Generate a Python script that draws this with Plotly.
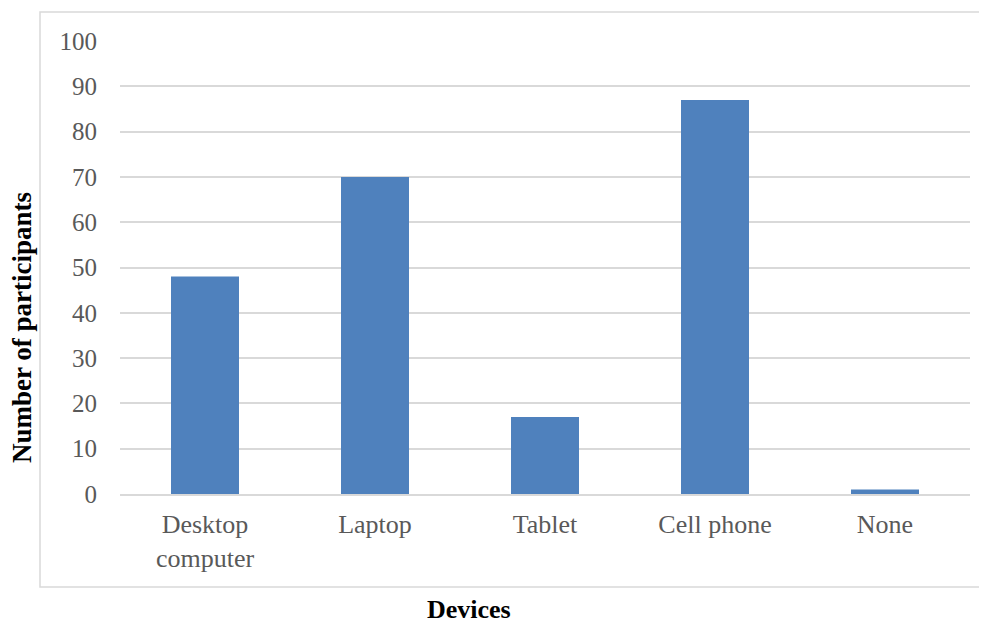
import plotly.graph_objects as go

categories = ["Desktop<br>computer", "Laptop", "Tablet", "Cell phone", "None"]
values = [48, 70, 17, 87, 1]
y_ticks = [0, 10, 20, 30, 40, 50, 60, 70, 80, 90, 100]

OFF = 8  # page body offset
W, H = 987 - OFF, 625 - OFF
L, T = 120 - OFF, 41 - OFF
pw, ph = 850, 453
R, B = W - L - pw, H - T - ph

def px_x(p):
    return (p - OFF - L) / pw

def px_y(p):
    return (T + ph - (p - OFF)) / ph

font_family = "Liberation Serif, Times New Roman, serif"
text_color = "#595959"

fig = go.Figure(go.Bar(
    x=categories, y=values, marker=dict(color="#4F81BD", line=dict(width=0)),
    width=0.4,
))

fig.update_layout(
    width=W, height=H,
    margin=dict(l=L, r=R, t=T, b=B),
    paper_bgcolor="white", plot_bgcolor="white",
    font=dict(family=font_family, size=25, color=text_color),
    showlegend=False,
    xaxis=dict(
        showgrid=False, showline=True, linecolor="#d9d9d9", linewidth=1.5,
        ticks="", tickfont=dict(size=26, color=text_color),
        ticklabelstandoff=6,
    ),
    yaxis=dict(
        range=[0, 100], tickvals=y_ticks, showgrid=True, gridcolor="#d9d9d9", gridwidth=1.5,
        zeroline=False, showline=False, ticks="", ticklabelstandoff=22,
        tickfont=dict(size=25, color=text_color),
    ),
    shapes=[dict(
        type="rect", xref="paper", yref="paper",
        x0=px_x(40), x1=px_x(1000), y0=px_y(587), y1=px_y(12),
        line=dict(color="#d9d9d9", width=1.5), fillcolor="rgba(0,0,0,0)", layer="below",
    )],
    annotations=[
        dict(text="<b>Number of participants</b>", xref="paper", yref="paper",
             x=px_x(22), y=px_y(328), textangle=-90, showarrow=False,
             font=dict(size=27, color="black", family=font_family),
             xanchor="center", yanchor="middle"),
        dict(text="<b>Devices</b>", xref="paper", yref="paper",
             x=px_x(469), y=px_y(609), showarrow=False,
             font=dict(size=26, color="black", family=font_family),
             xanchor="center", yanchor="middle"),
    ],
)

fig.write_html("out.html")
